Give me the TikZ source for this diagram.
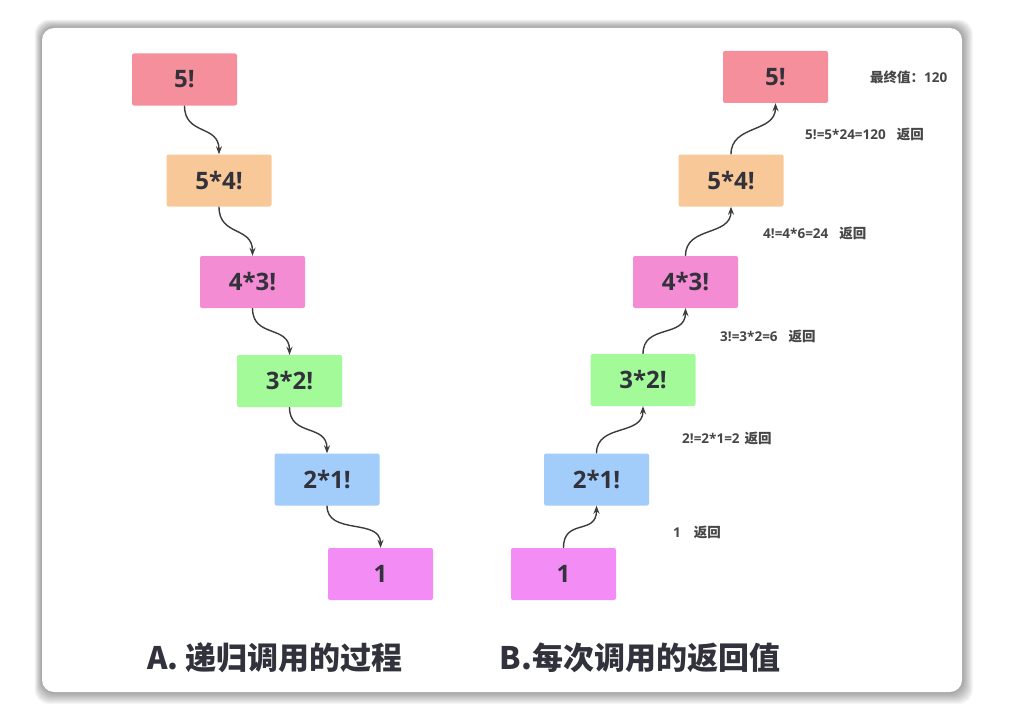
\documentclass[tikz,border=0pt]{standalone}
\usepackage{fontspec}
\setmainfont{Open Sans}
\newfontfamily\cjk{Noto Sans CJK SC}
\usetikzlibrary{arrows.meta}
\definecolor{cA}{RGB}{245,143,155}
\definecolor{cB}{RGB}{249,200,152}
\definecolor{cC}{RGB}{243,140,210}
\definecolor{cD}{RGB}{162,250,152}
\definecolor{cE}{RGB}{162,205,250}
\definecolor{cF}{RGB}{244,140,245}
\definecolor{txt}{RGB}{50,50,60}
\definecolor{lbl}{RGB}{70,70,70}
\definecolor{arr}{RGB}{60,60,60}
\tikzset{
  fbox/.style={minimum width=105pt,minimum height=52pt,rounded corners=2pt,inner sep=0pt,
    font=\bfseries\fontsize{24}{24}\selectfont,text=txt},
  conn/.style={draw=arr,line width=1.4pt,-{Stealth[length=8pt,width=6pt]}},
  lab/.style={anchor=west,inner sep=0pt,text=lbl,font=\bfseries\fontsize{13.5}{14}\selectfont},
  ttl/.style={inner sep=0pt,text=txt,font=\cjk\bfseries\fontsize{31}{31}\selectfont}
}
\begin{document}
\begin{tikzpicture}[x=1pt,y=-1pt]
\useasboundingbox (0,0) rectangle (1018,709);
% card shadow
\foreach \i in {1,...,12}{
  \fill[black,opacity=0.035,rounded corners=14pt] (42-\i*0.6,28-\i*0.7) rectangle (962+\i*0.9,692+\i*1.0);
}
\fill[white,rounded corners=12pt] (42,28) rectangle (962,692);
% left column
\node[fbox,fill=cA] (l5) at (184.5,79.5) {5!};
\node[fbox,fill=cB] (l4) at (219,180.5) {5*4!};
\node[fbox,fill=cC] (l3) at (252.5,282) {4*3!};
\node[fbox,fill=cD] (l2) at (289.5,381) {3*2!};
\node[fbox,fill=cE] (l1) at (327,479.5) {2*1!};
\node[fbox,fill=cF] (l0) at (380.5,574) {1};
\foreach \a/\b in {l5/l4,l4/l3,l3/l2,l2/l1,l1/l0}{
  \draw[conn] (\a.south) .. controls ([yshift=-30pt]\a.south) and ([yshift=30pt]\b.north) .. (\b.north);
}
% right column
\node[fbox,fill=cA] (r5) at (775.5,77) {5!};
\node[fbox,fill=cB] (r4) at (731,180.5) {5*4!};
\node[fbox,fill=cC] (r3) at (685.5,282) {4*3!};
\node[fbox,fill=cD] (r2) at (643,380) {3*2!};
\node[fbox,fill=cE] (r1) at (596.5,479.5) {2*1!};
\node[fbox,fill=cF] (r0) at (563.5,574) {1};
\foreach \a/\b in {r0/r1,r1/r2,r2/r3,r3/r4,r4/r5}{
  \draw[conn] (\a.north) .. controls ([yshift=30pt]\a.north) and ([yshift=-30pt]\b.south) .. (\b.south);
}
% labels
\node[lab] (t5) at (870,77) {{\cjk 最终值：}120};
\node[lab] (t4) at (805,134) {5!=5*24=120\hspace{11pt}{\cjk 返回}};
\node[lab] (t3) at (763,233) {4!=4*6=24\hspace{11pt}{\cjk 返回}};
\node[lab] (t2) at (720,336) {3!=3*2=6\hspace{11pt}{\cjk 返回}};
\node[lab] (t1) at (682,438) {2!=2*1=2\hspace{5pt}{\cjk 返回}};
\node[lab] (t0) at (673,532) {1\hspace{13pt}{\cjk 返回}};
% titles
\node[ttl] (ta) at (275,658) {A. 递归调用的过程};
\node[ttl] (tb) at (640,658) {B.每次调用的返回值};
\end{tikzpicture}
\end{document}
